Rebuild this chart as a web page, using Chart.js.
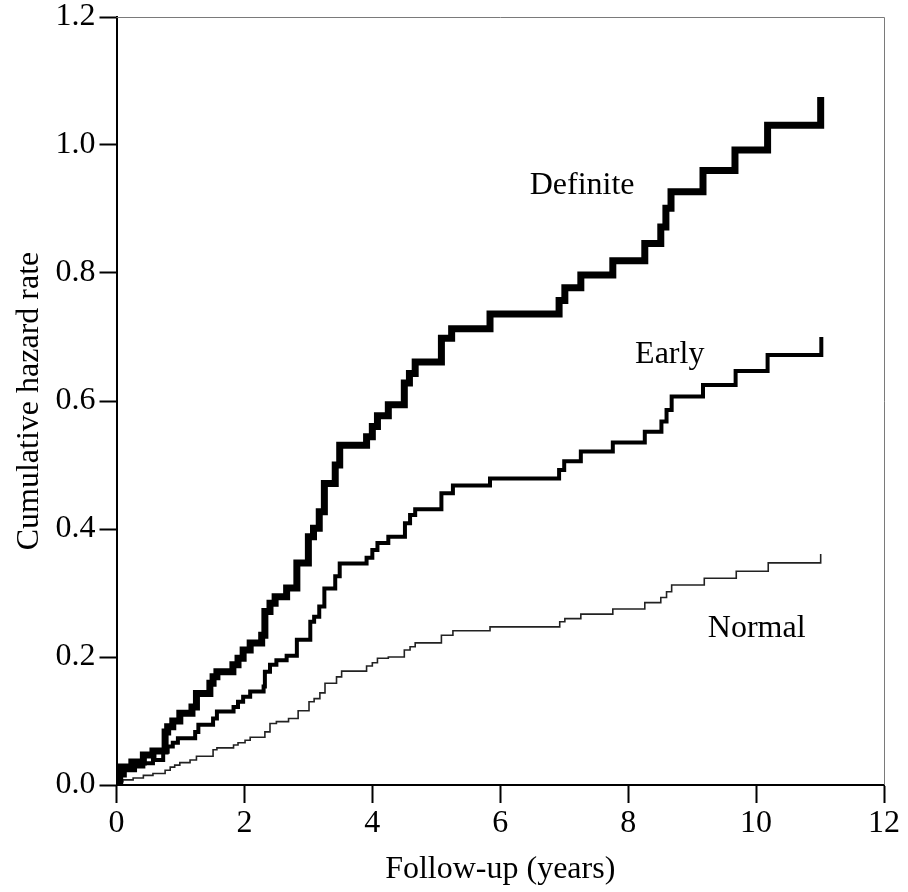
<!DOCTYPE html>
<html>
<head>
<meta charset="utf-8">
<script src="https://cdn.jsdelivr.net/npm/chart.js@4.4.0/dist/chart.umd.min.js"></script>
<style>
  body { margin: 0; background: #fff; }
  canvas { display: block; }
</style>
</head>
<body>
<canvas id="hazardChart" width="908" height="892"></canvas>
<script>
// ===== Datos =====
const xTicks = [0, 2, 4, 6, 8, 10, 12];
const yTicks = [0.0, 0.2, 0.4, 0.6, 0.8, 1.0, 1.2];

const definiteTime = [0, 0.05, 0.24, 0.42, 0.57, 0.76, 0.80, 0.88, 0.99, 1.18, 1.25, 1.46, 1.51, 1.57, 1.82, 1.90, 1.98, 2.09, 2.27, 2.32, 2.40, 2.48, 2.66, 2.82, 3.00, 3.08, 3.17, 3.25, 3.42, 3.49, 3.91, 4.00, 4.08, 4.25, 4.50, 4.58, 4.67, 5.08, 5.24, 5.84, 6.92, 7.01, 7.26, 7.76, 8.26, 8.51, 8.59, 8.67, 9.17, 9.67, 10.18, 11.01];
const definiteHazard = [0, 0.028, 0.036, 0.047, 0.053, 0.083, 0.091, 0.100, 0.112, 0.122, 0.143, 0.159, 0.169, 0.177, 0.188, 0.198, 0.211, 0.222, 0.234, 0.271, 0.284, 0.294, 0.308, 0.347, 0.388, 0.401, 0.427, 0.471, 0.500, 0.531, 0.544, 0.560, 0.577, 0.594, 0.628, 0.643, 0.661, 0.698, 0.713, 0.736, 0.757, 0.777, 0.797, 0.819, 0.846, 0.872, 0.901, 0.927, 0.960, 0.992, 1.031, 1.075];

const earlyTime = [0, 0.05, 0.13, 0.29, 0.42, 0.57, 0.73, 0.80, 0.88, 0.96, 1.23, 1.28, 1.51, 1.57, 1.83, 1.90, 1.98, 2.09, 2.30, 2.32, 2.40, 2.50, 2.66, 2.82, 3.03, 3.09, 3.17, 3.25, 3.42, 3.49, 3.91, 4.00, 4.08, 4.25, 4.51, 4.59, 4.67, 5.08, 5.26, 5.84, 6.92, 7.00, 7.26, 7.76, 8.26, 8.52, 8.60, 8.68, 9.17, 9.68, 10.18, 11.02];
const earlyHazard = [0, 0.015, 0.023, 0.029, 0.034, 0.039, 0.052, 0.060, 0.066, 0.073, 0.083, 0.094, 0.104, 0.115, 0.122, 0.130, 0.138, 0.146, 0.154, 0.177, 0.188, 0.195, 0.202, 0.227, 0.255, 0.263, 0.279, 0.307, 0.326, 0.346, 0.355, 0.367, 0.378, 0.388, 0.409, 0.422, 0.431, 0.456, 0.468, 0.479, 0.492, 0.506, 0.521, 0.535, 0.552, 0.568, 0.586, 0.607, 0.625, 0.647, 0.672, 0.700];

const normalTime = [0, 0.05, 0.10, 0.26, 0.42, 0.57, 0.76, 0.84, 0.91, 0.99, 1.15, 1.25, 1.51, 1.57, 1.83, 1.90, 2.01, 2.09, 2.32, 2.40, 2.50, 2.69, 2.84, 3.01, 3.09, 3.18, 3.26, 3.44, 3.52, 3.91, 4.00, 4.08, 4.25, 4.50, 4.59, 4.67, 5.08, 5.26, 5.84, 6.93, 7.01, 7.26, 7.76, 8.26, 8.51, 8.60, 8.68, 9.19, 9.69, 10.19, 11.01];
const normalHazard = [0, 0.005, 0.008, 0.011, 0.015, 0.018, 0.023, 0.028, 0.031, 0.035, 0.039, 0.045, 0.055, 0.058, 0.0625, 0.066, 0.070, 0.0745, 0.083, 0.096, 0.099, 0.104, 0.116, 0.130, 0.135, 0.144, 0.159, 0.169, 0.178, 0.186, 0.191, 0.198, 0.200, 0.211, 0.216, 0.222, 0.234, 0.241, 0.247, 0.255, 0.260, 0.267, 0.275, 0.285, 0.293, 0.302, 0.3125, 0.323, 0.334, 0.347, 0.361];

const groupNames = ['Definite', 'Early', 'Normal'];

// posición de las etiquetas de cada curva (en unidades de los ejes)
const labelAnchors = [
    { x: 7.28, y: 0.936 },
    { x: 8.65, y: 0.672 },
    { x: 10.01, y: 0.245 }
];

const SERIF = "'Liberation Serif', 'Times New Roman', serif";
const FONT_SIZE = 32;

function toPoints(times, values) {
    return times.map((t, i) => ({ x: t, y: values[i] }));
}

// Marco fino arriba y a la derecha + etiquetas de las curvas
const frameAndLabels = {
    id: 'frameAndLabels',
    afterDatasetsDraw(chart) {
        const { ctx, chartArea, scales } = chart;
        ctx.save();
        ctx.strokeStyle = '#7a7a7a';
        ctx.lineWidth = 1;
        ctx.beginPath();
        ctx.moveTo(chartArea.left, chartArea.top + 0.5);
        ctx.lineTo(chartArea.right + 0.5, chartArea.top + 0.5);
        ctx.lineTo(chartArea.right + 0.5, chartArea.bottom);
        ctx.stroke();

        ctx.fillStyle = '#000';
        ctx.font = `${FONT_SIZE}px ${SERIF}`;
        ctx.textAlign = 'center';
        ctx.textBaseline = 'middle';
        groupNames.forEach((name, i) => {
            const a = labelAnchors[i];
            ctx.fillText(name, scales.x.getPixelForValue(a.x), scales.y.getPixelForValue(a.y));
        });
        ctx.restore();
    }
};

const lineStyle = (width, color) => ({
    borderColor: color,
    borderWidth: width,
    stepped: 'before',
    pointRadius: 0,
    tension: 0,
    fill: false,
    borderJoinStyle: 'miter',
    borderCapStyle: 'butt'
});

const ctx = document.getElementById('hazardChart').getContext('2d');
new Chart(ctx, {
    type: 'line',
    data: {
        datasets: [
            { label: groupNames[0], data: toPoints(definiteTime, definiteHazard), ...lineStyle(7, '#000') },
            { label: groupNames[1], data: toPoints(earlyTime, earlyHazard), ...lineStyle(4, '#000') },
            { label: groupNames[2], data: toPoints(normalTime, normalHazard), ...lineStyle(1.6, '#222') }
        ]
    },
    options: {
        responsive: false,
        animation: false,
        devicePixelRatio: 1,
        layout: { padding: { top: 17, right: 24, left: 0, bottom: 0 } },
        plugins: {
            legend: { display: false },
            tooltip: { enabled: false }
        },
        scales: {
            x: {
                type: 'linear',
                min: 0,
                max: 12,
                afterFit(scale) { scale.height = 107; },
                afterBuildTicks(scale) { scale.ticks = xTicks.map(v => ({ value: v })); },
                ticks: {
                    color: '#000',
                    font: { family: SERIF, size: FONT_SIZE },
                    padding: 1,
                    maxRotation: 0,
                    callback: v => String(v)
                },
                grid: {
                    drawOnChartArea: false,
                    drawTicks: true,
                    tickLength: 18,
                    tickColor: '#000',
                    tickWidth: 2
                },
                border: { color: '#000', width: 2 },
                title: {
                    display: true,
                    text: 'Follow-up (years)',
                    color: '#000',
                    font: { family: SERIF, size: FONT_SIZE },
                    padding: { top: 0, bottom: 3 }
                }
            },
            y: {
                type: 'linear',
                min: 0,
                max: 1.2,
                afterFit(scale) {
                    scale.width = 116.5;
                    scale.paddingTop = 0;
                    scale.paddingBottom = 0;
                },
                afterBuildTicks(scale) { scale.ticks = yTicks.map(v => ({ value: v })); },
                ticks: {
                    color: '#000',
                    font: { family: SERIF, size: FONT_SIZE, lineHeight: 1 },
                    padding: 4,
                    callback: v => Number(v).toFixed(1)
                },
                grid: {
                    drawOnChartArea: false,
                    drawTicks: true,
                    tickLength: 17,
                    tickColor: '#000',
                    tickWidth: 2
                },
                border: { color: '#000', width: 2 },
                title: {
                    display: true,
                    text: 'Cumulative hazard rate',
                    color: '#000',
                    font: { family: SERIF, size: FONT_SIZE },
                    padding: { top: 10, bottom: 0 }
                }
            }
        }
    },
    plugins: [frameAndLabels]
});
</script>
</body>
</html>
